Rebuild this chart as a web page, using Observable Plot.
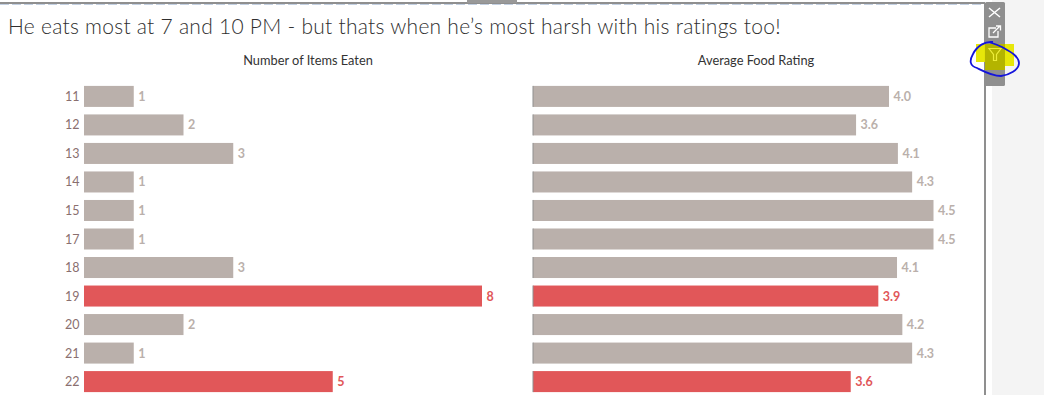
<!DOCTYPE html>
<html>
<head>
<meta charset="utf-8">
<script src="https://cdn.jsdelivr.net/npm/d3@7"></script>
<script src="https://cdn.jsdelivr.net/npm/@observablehq/plot@0.6"></script>
<style>
html,body{margin:0;padding:0;background:#fff;overflow:hidden;width:1044px;height:395px}
#root{position:relative;width:1044px;height:395px;overflow:hidden;font-family:Lato,"Open Sans",sans-serif}
#bg{position:absolute;left:992px;top:0;width:52px;height:395px;background:#f4f4f4}
.panel{position:absolute;top:0}
#title{position:absolute;left:8px;top:13px;font-size:21px;font-weight:300;color:#2f2f2f;white-space:nowrap;letter-spacing:.26px}
.head{position:absolute;top:51.500px;font-size:12.800px;color:#333;white-space:nowrap;transform:translateX(-50%)}
#deco{position:absolute;left:0;top:0}
</style>
</head>
<body>
<div id="root">
  <div id="bg"></div>
  <div id="title">He eats most at 7 and 10 PM - but thats when he’s most harsh with his ratings too!</div>
  <div class="head" style="left:308px">Number of Items Eaten</div>
  <div class="head" style="left:756px">Average Food Rating</div>
  <div class="panel" id="left" style="left:0"></div>
  <div class="panel" id="right" style="left:0"></div>
  <svg id="deco" width="1044" height="395">
    <line x1="0" x2="985" y1="3" y2="3" stroke="#8f8f8f" stroke-width="2"/>
    <line x1="0" x2="985" y1="4.5" y2="4.5" stroke="#c3d0e2" stroke-width="1" stroke-dasharray="9 3"/>
    <rect x="467" y="0" width="50" height="3" fill="#999"/>
    <rect x="984" y="3" width="2" height="392" fill="#8f8f8f"/>
    <rect x="985" y="2" width="20" height="84" rx="1.5" fill="#8f8f8f"/>
    <path d="M989 8L1000 17M1000 8L989 17" stroke="#fff" stroke-width="1.5" fill="none"/>
    <path d="M996 28h-7v9h9v-6M993 33l7-7M996 26h4.5v4.500" stroke="#fff" stroke-width="1.300" fill="none"/>
    <path d="M976 44H1014V66H1003V70H985V62H976Z" fill="#e6e600" fill-opacity=".96"/>
    <path d="M985 44H1005V70H985Z" fill="#b4b400"/>
    <path d="M989 48.500H1001L996.500 54.500V60.500H993.500V54.500Z" fill="none" stroke="#eded3a" stroke-width="1.200"/>
    <path d="M993 42C985 41 977 46 973 54C969 61 970 66 977 68C985 72 992 76 1001 76C1009 75 1019 70 1019 63C1019 56 1009 51 1002 47C998 45 995 44 989 42" fill="none" stroke="#1414dc" stroke-width="1.800"/>
  </svg>
</div>
<script>
const hours = ["11","12","13","14","15","17","18","19","20","21","22"];
const itemsEaten = [1,2,3,1,1,1,3,8,2,1,5];
const avgRating = [4.0,3.63,4.1,4.26,4.5,4.5,4.09,3.88,4.15,4.26,3.57];
const ratingLabels = ["4.0","3.6","4.1","4.3","4.5","4.5","4.1","3.9","4.2","4.3","3.6"];
const highlighted = ["19","22"];

const GREY = "#bab0ab", RED = "#e15759", LABEL = "#bab0ab";
const colour = h => highlighted.includes(h) ? RED : GREY;
const yScale = {domain: hours, range: [78.4, 399.6], padding: 0.263, align: 0.5, round: false, label: null};

const items = hours.map((hour, i) => ({hour, value: itemsEaten[i], label: String(itemsEaten[i])}));
const ratings = hours.map((hour, i) => ({hour, value: avgRating[i], label: ratingLabels[i]}));
const labelColour = d => highlighted.includes(d.hour) ? RED : LABEL;
const font = "Lato, 'Open Sans', sans-serif";

const leftChart = Plot.plot({
  width: 520, height: 395, marginLeft: 84, marginRight: 1, marginTop: 0, marginBottom: 0,
  style: {background: "transparent", fontFamily: font, fontSize: "11.5px", overflow: "visible"},
  x: {domain: [0, 8], range: [84, 482], axis: null},
  y: yScale,
  marks: [
    Plot.axisY({tickSize: 0, tickPadding: 5, color: "#8a6f6f", label: null, fontSize: 12.5}),
    Plot.barX(items, {y: "hour", x: "value", fill: d => colour(d.hour)}),
    Plot.text(items, {y: "hour", x: "value", text: "label", dx: 4, textAnchor: "start",
      fill: labelColour, fontWeight: 700, fontSize: 12.5})
  ]
});
document.getElementById("left").append(leftChart);

const rightChart = Plot.plot({
  width: 985, height: 395, marginLeft: 533, marginRight: 1, marginTop: 0, marginBottom: 0,
  style: {background: "transparent", fontFamily: font, fontSize: "11.5px", overflow: "visible"},
  x: {domain: [0, 4.5], range: [533, 933.5], axis: null},
  y: {...yScale, axis: null},
  marks: [
    Plot.barX(ratings, {y: "hour", x: "value", fill: d => colour(d.hour)}),
    Plot.tickX(ratings, {y: "hour", x: 0, stroke: "#8f8f8f", strokeWidth: 1, dx: -0.5}),
    Plot.text(ratings, {y: "hour", x: "value", text: "label", dx: 4, textAnchor: "start",
      fill: labelColour, fontWeight: 700, fontSize: 12.5})
  ]
});
document.getElementById("right").append(rightChart);
</script>
</body>
</html>
